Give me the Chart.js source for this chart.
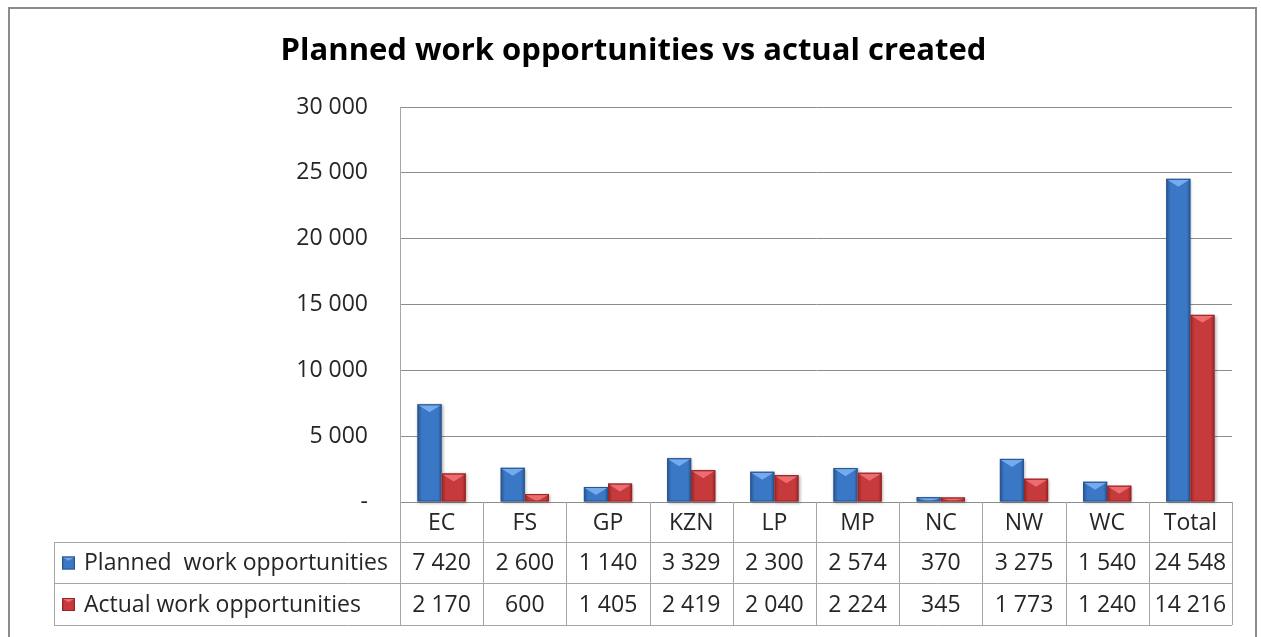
<!DOCTYPE html>
<html>
<head>
<meta charset="utf-8">
<title>Planned work opportunities vs actual created</title>
<script src="https://cdn.jsdelivr.net/npm/chart.js@4.4.1/dist/chart.umd.min.js"></script>
<style>
  html, body { margin: 0; padding: 0; background: #fff; }
  #wrap { width: 1261px; height: 637px; }
</style>
</head>
<body>
<div id="wrap"><canvas id="chart" width="1261" height="637"></canvas></div>
<script>
// Provinces plus the national total
const categories = ['EC', 'FS', 'GP', 'KZN', 'LP', 'MP', 'NC', 'NW', 'WC', 'Total'];
const seriesNames = ['Planned  work opportunities', 'Actual work opportunities'];
const planned = [7420, 2600, 1140, 3329, 2300, 2574, 370, 3275, 1540, 24548];
const actual = [2170, 600, 1405, 2419, 2040, 2224, 345, 1773, 1240, 14216];
const yTicks = [0, 5000, 10000, 15000, 20000, 25000, 30000];
const chartTitle = 'Planned work opportunities vs actual created';

const FONT = '"Open Sans", Lato, sans-serif';
const TEXT = '#262626';
const LINE = '#a6a6a6';

// bar palettes: base, dark edge, light bevel
const palettes = [
  { base: '#3a77c5', edge: '#28568f', light: '#74aaee' },
  { base: '#c73a3c', edge: '#942628', light: '#ec6d6f' }
];

function fmt(n) {
  return String(n).replace(/\B(?=(\d{3})+(?!\d))/g, ' ');
}

// draws a bevelled block like the Excel "preset" bar style
function bevelBlock(ctx, x0, top, w, h, pal) {
  const g = ctx.createLinearGradient(x0, 0, x0 + w, 0);
  g.addColorStop(0, pal.edge);
  g.addColorStop(0.18, pal.base);
  g.addColorStop(0.5, pal.base);
  g.addColorStop(0.85, pal.base);
  g.addColorStop(1, pal.edge);
  ctx.fillStyle = g;
  ctx.fillRect(x0, top, w, h);
  const th = Math.min(w / 3, h);
  ctx.beginPath();
  ctx.moveTo(x0 + 1, top + 1);
  ctx.lineTo(x0 + w - 1, top + 1);
  ctx.lineTo(x0 + w / 2, top + th);
  ctx.closePath();
  ctx.fillStyle = pal.light;
  ctx.fill();
  ctx.strokeStyle = pal.edge;
  ctx.lineWidth = 1;
  ctx.strokeRect(x0 + 0.5, top + 0.5, w - 1, h - 1);
}

// white page, outer border and the heading (centred on the whole frame)
const frame = {
  id: 'frame',
  beforeDraw(chart) {
    const ctx = chart.ctx;
    ctx.save();
    ctx.fillStyle = '#fff';
    ctx.fillRect(0, 0, chart.width, chart.height);
    ctx.strokeStyle = '#8c8c8c';
    ctx.lineWidth = 2;
    ctx.strokeRect(9, 8, 1247, 700);
    ctx.fillStyle = '#000';
    ctx.font = 'bold 31px ' + FONT;
    ctx.textAlign = 'center';
    ctx.textBaseline = 'middle';
    ctx.fillText(chartTitle, chart.width / 2 + 3, 51);
    ctx.restore();
  }
};

const bevelBars = {
  id: 'bevelBars',
  afterDatasetsDraw(chart) {
    const ctx = chart.ctx;
    ctx.save();
    chart.data.datasets.forEach((ds, i) => {
      const meta = chart.getDatasetMeta(i);
      meta.data.forEach(bar => {
        const w = bar.width;
        const h = bar.base - bar.y;
        if (h <= 0) return;
        ctx.shadowColor = 'rgba(0,0,0,0.35)';
        ctx.shadowBlur = 3;
        ctx.shadowOffsetX = 1;
        ctx.shadowOffsetY = 1;
        ctx.fillStyle = '#fff';
        ctx.fillRect(bar.x - w / 2, bar.y, w, h);
        ctx.shadowColor = 'transparent';
        bevelBlock(ctx, bar.x - w / 2, bar.y, w, h, palettes[i]);
      });
    });
    ctx.restore();
  }
};

// data table under the plot, aligned to the category scale
const dataTable = {
  id: 'dataTable',
  afterDraw(chart) {
    const { ctx, chartArea } = chart;
    const x = chart.scales.x;
    const slot = (chartArea.right - chartArea.left) / categories.length;
    const rows = [chartArea.bottom, 542, 583, 625];
    const left = 54;
    const series = [planned, actual];
    ctx.save();
    ctx.strokeStyle = LINE;
    ctx.lineWidth = 1;
    ctx.beginPath();
    // horizontal rules
    for (let r = 1; r < rows.length; r++) {
      ctx.moveTo(left, rows[r] + 0.5);
      ctx.lineTo(chartArea.right, rows[r] + 0.5);
    }
    ctx.moveTo(left + 0.5, rows[1]);
    ctx.lineTo(left + 0.5, rows[3]);
    // column separators
    for (let i = 0; i <= categories.length; i++) {
      const px = Math.round(chartArea.left + i * slot) + 0.5;
      ctx.moveTo(px, rows[0]);
      ctx.lineTo(px, rows[3]);
    }
    ctx.stroke();

    ctx.fillStyle = TEXT;
    ctx.font = '23px ' + FONT;
    ctx.textAlign = 'center';
    ctx.textBaseline = 'middle';
    categories.forEach((c, i) => {
      const cx = x.getPixelForValue(i);
      ctx.fillText(c, cx, (rows[0] + rows[1]) / 2 + 1);
      series.forEach((s, k) => {
        ctx.fillText(fmt(s[i]), cx, (rows[k + 1] + rows[k + 2]) / 2 + 1);
      });
    });
    ctx.textAlign = 'left';
    seriesNames.forEach((name, k) => {
      const cy = (rows[k + 1] + rows[k + 2]) / 2;
      bevelBlock(ctx, 62, cy - 6, 13, 13, palettes[k]);
      ctx.fillStyle = TEXT;
      ctx.fillText(name, 84, cy + 1);
    });
    ctx.restore();
  }
};

new Chart(document.getElementById('chart'), {
  type: 'bar',
  data: {
    labels: categories,
    datasets: [
      { label: seriesNames[0], data: planned, backgroundColor: 'rgba(0,0,0,0)' },
      { label: seriesNames[1], data: actual, backgroundColor: 'rgba(0,0,0,0)' }
    ]
  },
  options: {
    responsive: false,
    animation: false,
    layout: { padding: { left: 0, right: 29, top: 107, bottom: 135 } },
    datasets: { bar: { categoryPercentage: 0.58, barPercentage: 1 } },
    plugins: {
      legend: { display: false },
      tooltip: { enabled: false },
      title: { display: false }
    },
    scales: {
      x: { display: false },
      y: {
        min: 0,
        max: 30000,
        afterBuildTicks(scale) {
          scale.ticks = yTicks.map(v => ({ value: v }));
        },
        afterFit(scale) { scale.width = 400; },
        border: { display: true, color: LINE, width: 1 },
        grid: { color: '#8c8c8c', lineWidth: 1, drawTicks: false },
        ticks: {
          padding: 32,
          color: TEXT,
          font: { family: FONT, size: 23 },
          callback: v => v === 0 ? '-' : fmt(v)
        }
      }
    }
  },
  plugins: [frame, bevelBars, dataTable]
});
</script>
</body>
</html>
